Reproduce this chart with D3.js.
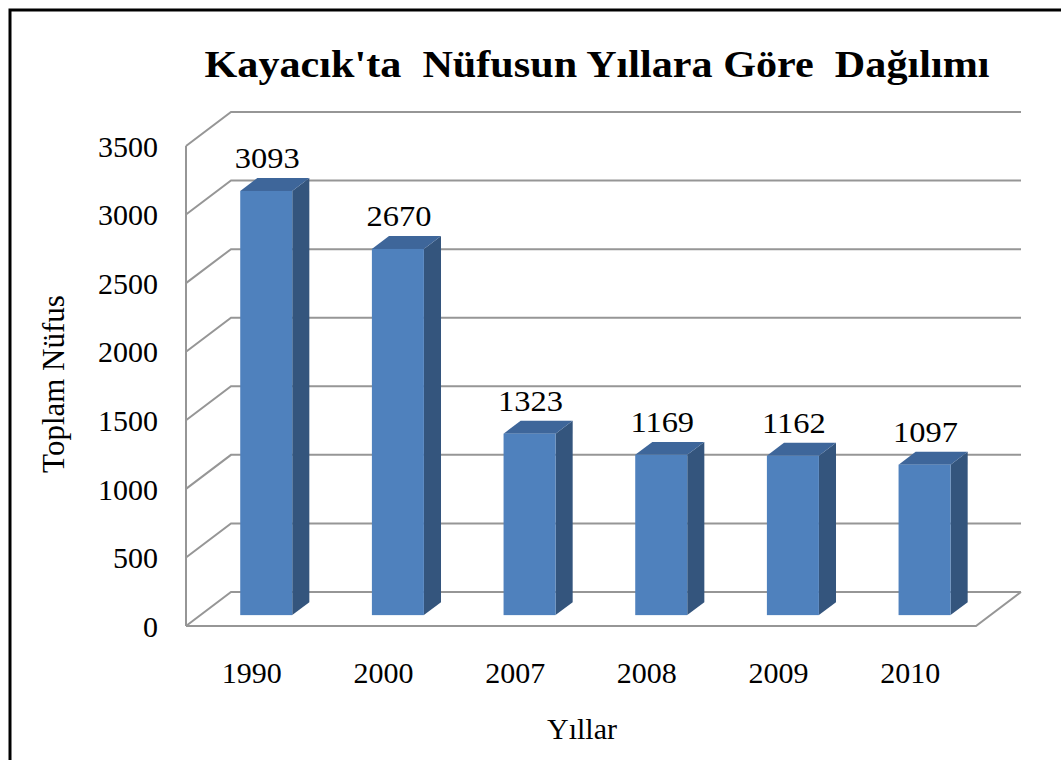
<!DOCTYPE html>
<html>
<head>
<meta charset="utf-8">
<script src="https://cdn.jsdelivr.net/npm/d3@7"></script>
<style>
  body { margin: 0; background: #fff; }
</style>
</head>
<body>
<div id="chart"></div>
<script>
const years = ['1990', '2000', '2007', '2008', '2009', '2010']
const population = [3093, 2670, 1323, 1169, 1162, 1097]
const yTicks = [0, 500, 1000, 1500, 2000, 2500, 3000, 3500]

const width = 1061
const height = 760
const serif = "'Liberation Serif', 'Times New Roman', 'DejaVu Serif', serif"

// front plane of the plot, depth offset going back
const plot = { left: 186, right: 976, top: 146, bottom: 626 }
const depth = { dx: 45, dy: -34 }
const barZ = [0.32, 0.7]

const x = d3.scaleBand()
  .domain(years)
  .range([plot.left, plot.right])
  .padding(0)

const y = d3.scaleLinear()
  .domain([0, 3500])
  .range([plot.bottom, plot.top])

const off = z => [depth.dx * z, depth.dy * z]

const svg = d3.select('#chart').append('svg')
  .attr('width', width)
  .attr('height', height)
  .style('font-family', serif)

// frame (left and top edges visible)
svg.append('rect')
  .attr('x', 10).attr('y', 10)
  .attr('width', width + 20).attr('height', height + 20)
  .attr('fill', '#fff')
  .attr('stroke', '#000')
  .attr('stroke-width', 3)

// walls + gridlines
const grid = svg.append('g')
  .attr('fill', 'none')
  .attr('stroke', '#969696')
  .attr('stroke-width', 2)

const [bx, by] = off(1)
yTicks.forEach(v => {
  grid.append('path')
    .attr('d', `M${plot.left},${y(v)}L${plot.left + bx},${y(v) + by}L${plot.right + bx},${y(v) + by}`)
})
grid.append('line')
  .attr('x1', plot.left).attr('x2', plot.left)
  .attr('y1', y(3500)).attr('y2', y(0))
grid.append('path')
  .attr('d', `M${plot.left},${y(0)}L${plot.right},${y(0)}L${plot.right + bx},${y(0) + by}`)

// bars
const barW = x.bandwidth() * 0.395
const bars = svg.append('g')
  .selectAll('g')
  .data(years.map((yr, i) => ({ yr, value: population[i] })))
  .enter().append('g')

const [fx, fy] = off(barZ[0])
const [kx, ky] = off(barZ[1])

bars.each(function (d) {
  const g = d3.select(this)
  const x0 = x(d.yr) + x.bandwidth() / 2 - barW / 2 + fx
  const x1 = x0 + barW
  const yb = y(0) + fy
  const yt = y(d.value) + fy
  const sx = kx - fx
  const sy = ky - fy

  g.append('path')
    .attr('d', `M${x1},${yb}L${x1 + sx},${yb + sy}L${x1 + sx},${yt + sy}L${x1},${yt}Z`)
    .attr('fill', '#34557d')
  g.append('path')
    .attr('d', `M${x0},${yt}L${x0 + sx},${yt + sy}L${x1 + sx},${yt + sy}L${x1},${yt}Z`)
    .attr('fill', '#3e669a')
  g.append('rect')
    .attr('x', x0).attr('y', yt)
    .attr('width', barW).attr('height', yb - yt)
    .attr('fill', '#4f81bd')

  g.append('text')
    .attr('transform', `translate(${(x0 + x1) / 2 + 1},${yt + sy - 10}) scale(1.12,1)`)
    .attr('text-anchor', 'middle')
    .style('font-family', serif)
    .style('font-size', '29px')
    .text(d.value)
})

// axes
const yAxis = svg.append('g')
  .attr('transform', `translate(${plot.left},0)`)
  .call(d3.axisLeft(y).tickValues(yTicks).tickFormat(d3.format('d')).tickSize(0).tickPadding(28))
yAxis.select('.domain').remove()
yAxis.attr('font-family', null).attr('font-size', null)
yAxis.selectAll('text')
  .style('font-family', serif)
  .style('font-size', '30px')
  .attr('fill', '#000')
  .attr('dy', '0.34em')

const xAxis = svg.append('g')
  .attr('transform', `translate(0,${plot.bottom + 36})`)
  .call(d3.axisBottom(x).tickSize(0).tickPadding(0))
xAxis.select('.domain').remove()
xAxis.attr('font-family', null).attr('font-size', null)
xAxis.selectAll('text')
  .style('font-family', serif)
  .style('font-size', '30px')
  .attr('fill', '#000')
  .attr('dy', '0.7em')

// titles
svg.append('text')
  .attr('x', 597).attr('y', 77)
  .attr('text-anchor', 'middle')
  .attr('textLength', 785)
  .attr('lengthAdjust', 'spacingAndGlyphs')
  .style('white-space', 'pre')
  .style('font-family', serif)
  .style('font-size', '37px')
  .style('font-weight', 'bold')
  .text("Kayacık'ta  Nüfusun Yıllara Göre  Dağılımı")

svg.append('text')
  .attr('transform', 'translate(64,384) rotate(-90)')
  .attr('text-anchor', 'middle')
  .style('font-family', serif)
  .style('font-size', '31px')
  .text('Toplam Nüfus')

svg.append('text')
  .attr('x', 582).attr('y', 739)
  .attr('text-anchor', 'middle')
  .style('font-family', serif)
  .style('font-size', '30px')
  .text('Yıllar')
</script>
</body>
</html>
